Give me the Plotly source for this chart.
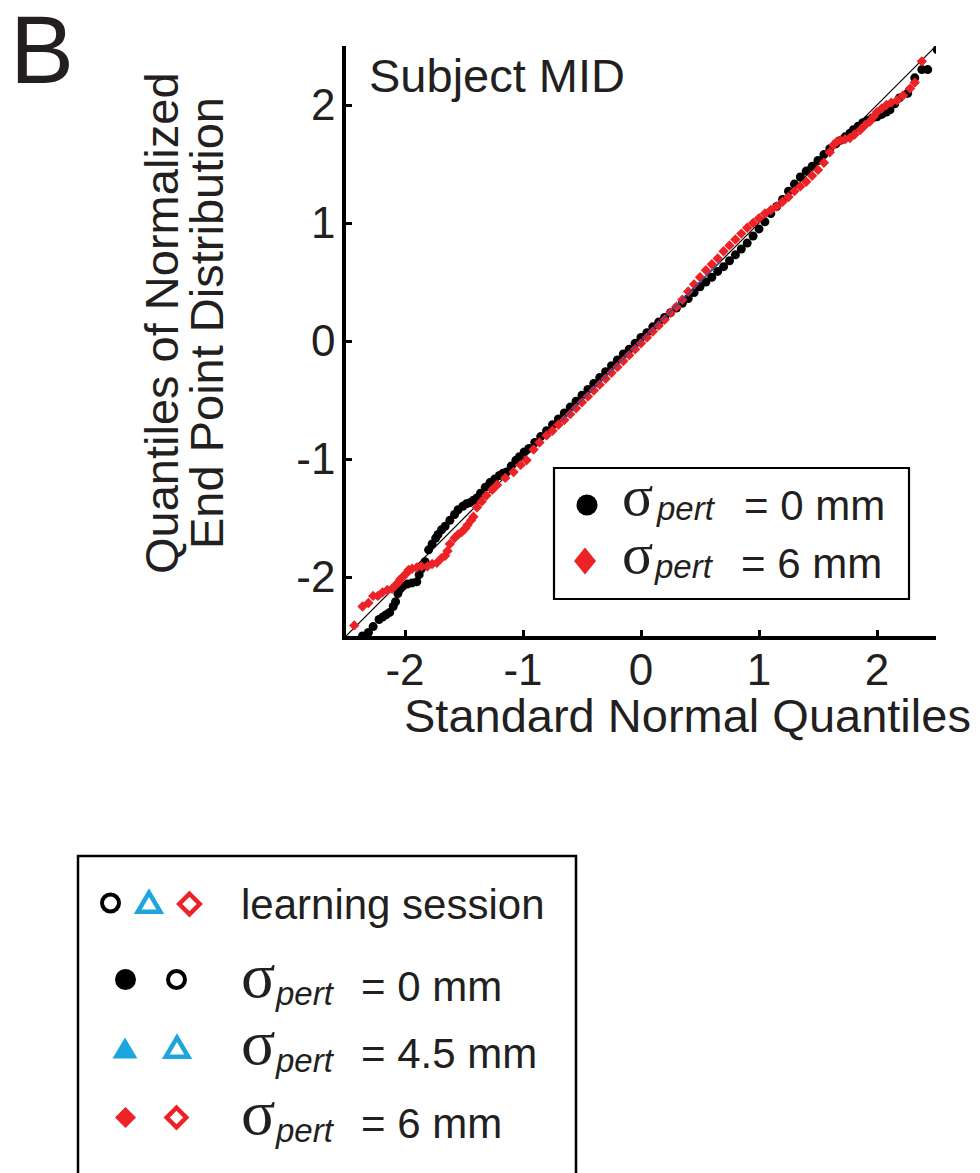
import plotly.graph_objects as go

# ---------------- data ----------------
# sigma_pert = 0 mm : theoretical (standard normal) quantiles and sample quantiles
black_x = [-2.36, -2.31, -2.27, -2.22, -2.19, -2.16, -2.13, -2.10, -2.08, -2.06,
           -2.04, -2.02, -1.98, -1.94, -1.90, -1.88, -1.86, -1.83, -1.80, -1.77,
           -1.74, -1.72, -1.69, -1.66, -1.62, -1.58, -1.55, -1.51, -1.48, -1.45,
           -1.42, -1.39, -1.36, -1.32, -1.28, -1.24, -1.20, -1.17, -1.14, -1.10,
           -1.06, -1.03, -0.99, -0.95, -0.90, -0.85, -0.80, -0.75, -0.70, -0.65,
           -0.60, -0.55, -0.50, -0.45, -0.40, -0.35, -0.30, -0.25, -0.20, -0.15,
           -0.10, -0.05, 0.00, 0.05, 0.10, 0.15, 0.20, 0.25, 0.30, 0.35,
           0.40, 0.45, 0.50, 0.55, 0.60, 0.65, 0.70, 0.75, 0.80, 0.85,
           0.90, 0.95, 1.00, 1.05, 1.10, 1.15, 1.20, 1.25, 1.30, 1.35,
           1.40, 1.45, 1.50, 1.55, 1.60, 1.65, 1.69, 1.73, 1.77, 1.80,
           1.84, 1.88, 1.92, 1.96, 2.00, 2.04, 2.08, 2.11, 2.15, 2.19,
           2.26, 2.32, 2.38, 2.43, 2.51]
black_y = [-2.50, -2.47, -2.42, -2.36, -2.34, -2.32, -2.30, -2.25, -2.21, -2.14,
           -2.10, -2.08, -2.06, -2.05, -2.04, -1.98, -1.93, -1.87, -1.77, -1.72,
           -1.67, -1.64, -1.60, -1.57, -1.52, -1.47, -1.43, -1.40, -1.38, -1.37,
           -1.35, -1.33, -1.29, -1.24, -1.20, -1.17, -1.14, -1.12, -1.11, -1.06,
           -1.01, -0.98, -0.94, -0.91, -0.86, -0.81, -0.76, -0.71, -0.66, -0.61,
           -0.56, -0.51, -0.46, -0.41, -0.36, -0.31, -0.26, -0.21, -0.16, -0.11,
           -0.07, -0.02, 0.03, 0.07, 0.12, 0.16, 0.20, 0.24, 0.28, 0.32,
           0.36, 0.41, 0.46, 0.50, 0.54, 0.59, 0.63, 0.68, 0.73, 0.78,
           0.83, 0.89, 0.95, 1.01, 1.08, 1.14, 1.20, 1.27, 1.33, 1.39,
           1.44, 1.48, 1.53, 1.58, 1.63, 1.67, 1.70, 1.73, 1.76, 1.79,
           1.82, 1.85, 1.87, 1.89, 1.90, 1.92, 1.94, 1.96, 2.01, 2.06,
           2.10, 2.23, 2.30, 2.30, 2.47]

# sigma_pert = 6 mm
red_x = [-2.43, -2.36, -2.31, -2.27, -2.23, -2.19, -2.15, -2.11, -2.08, -2.06,
         -2.04, -2.02, -1.99, -1.97, -1.94, -1.90, -1.86, -1.81, -1.77, -1.73,
         -1.69, -1.66, -1.64, -1.62, -1.58, -1.55, -1.52, -1.49, -1.47, -1.44,
         -1.42, -1.39, -1.35, -1.31, -1.26, -1.22, -1.15, -1.08, -1.02, -0.97,
         -0.91, -0.86, -0.80, -0.75, -0.70, -0.65, -0.60, -0.55, -0.50, -0.45,
         -0.40, -0.35, -0.30, -0.25, -0.20, -0.15, -0.10, -0.05, 0.00, 0.05,
         0.10, 0.15, 0.20, 0.25, 0.30, 0.35, 0.40, 0.45, 0.50, 0.55,
         0.60, 0.65, 0.70, 0.75, 0.80, 0.85, 0.90, 0.95, 1.00, 1.05,
         1.10, 1.15, 1.20, 1.25, 1.30, 1.35, 1.40, 1.45, 1.50, 1.55,
         1.60, 1.63, 1.66, 1.69, 1.73, 1.77, 1.81, 1.86, 1.90, 1.94,
         1.97, 2.00, 2.04, 2.08, 2.12, 2.17, 2.22, 2.28, 2.32, 2.38]
red_y = [-2.41, -2.25, -2.22, -2.16, -2.16, -2.13, -2.11, -2.10, -2.07, -2.05,
         -2.02, -2.00, -1.97, -1.94, -1.93, -1.92, -1.91, -1.91, -1.89, -1.88,
         -1.84, -1.82, -1.78, -1.72, -1.67, -1.64, -1.62, -1.59, -1.56, -1.52,
         -1.49, -1.41, -1.36, -1.31, -1.26, -1.22, -1.16, -1.11, -1.05, -1.01,
         -0.92, -0.86, -0.80, -0.76, -0.71, -0.67, -0.62, -0.57, -0.52, -0.47,
         -0.42, -0.37, -0.32, -0.27, -0.22, -0.17, -0.12, -0.07, -0.02, 0.03,
         0.08, 0.13, 0.18, 0.24, 0.29, 0.35, 0.42, 0.48, 0.54, 0.60,
         0.65, 0.70, 0.76, 0.81, 0.86, 0.91, 0.96, 1.00, 1.04, 1.08,
         1.11, 1.14, 1.18, 1.22, 1.27, 1.31, 1.35, 1.40, 1.45, 1.51,
         1.60, 1.66, 1.69, 1.70, 1.71, 1.72, 1.75, 1.79, 1.83, 1.86,
         1.90, 1.94, 1.97, 2.00, 2.02, 2.04, 2.08, 2.14, 2.19, 2.37]

ref_line = [-2.5, 2.5]          # y = x reference line
quartile_line = [-0.674, 0.674]  # line through 1st and 3rd quartiles

tick_vals = [-2, -1, 0, 1, 2]
tick_text = ["-2", "-1", "0", "1", "2"]

series_names = ["σpert = 0 mm", "σpert = 6 mm"]
legend_values = ["= 0 mm", "= 4.5 mm", "= 6 mm"]

# ---------------- styling ----------------
W, H = 980, 1173
OFF = 8  # page body margin of the html page
TXT = "#231f20"
RED = "#ec2227"
BLUE = "#1ea5de"
FONT = "Liberation Sans, Arial, sans-serif"
SERIF = "Liberation Serif, Times New Roman, serif"


def px(x):
    return (x - OFF) / W


def py(y):
    return 1 - (y - OFF) / H


fig = go.Figure()

fig.add_trace(go.Scatter(x=ref_line, y=ref_line, mode="lines",
                         line=dict(color="black", width=1.2),
                         showlegend=False, hoverinfo="skip"))
fig.add_trace(go.Scatter(x=black_x, y=black_y, mode="markers", name=series_names[0],
                         marker=dict(symbol="circle", size=9, color="black",
                                     line=dict(width=0)),
                         showlegend=False))
fig.add_trace(go.Scatter(x=red_x, y=red_y, mode="markers", name=series_names[1],
                         marker=dict(symbol="diamond", size=8, color=RED,
                                     line=dict(width=0)),
                         showlegend=False))
fig.add_trace(go.Scatter(x=quartile_line, y=quartile_line, mode="lines",
                         line=dict(color="#3a4aa0", width=1.3),
                         showlegend=False, hoverinfo="skip"))

axis_common = dict(range=[-2.5, 2.5], showgrid=False, zeroline=False,
                   showline=True, linecolor="black", linewidth=3.5,
                   ticks="inside", ticklen=6, tickwidth=3, tickcolor="black",
                   tickvals=tick_vals, ticktext=tick_text,
                   tickfont=dict(family=FONT, size=44, color=TXT))

fig.update_layout(
    width=W, height=H,
    margin=dict(l=0, r=0, t=0, b=0),
    paper_bgcolor="white", plot_bgcolor="white",
    xaxis=dict(domain=[px(346), px(936)], **axis_common),
    yaxis=dict(domain=[py(636), py(46)], **axis_common),
    showlegend=False,
)
fig.update_xaxes(ticklabelstandoff=-8)
fig.update_yaxes(ticklabelstandoff=-2)

ann = []


def text(x, y, s, size, family=FONT, xanchor="left", yanchor="middle", angle=0, color=TXT):
    ann.append(dict(x=px(x), y=py(y), xref="paper", yref="paper", text=s,
                    showarrow=False, xanchor=xanchor, yanchor=yanchor,
                    textangle=angle, borderpad=0,
                    font=dict(family=family, size=size, color=color)))


# panel letter & titles
text(9, 50, "B", 96)
text(368, 75, "Subject MID", 47)
text(972, 716, "Standard Normal Quantiles", 47, xanchor="right")
text(161, 323, "Quantiles of Normalized", 47, xanchor="center", angle=-90)
text(206, 323, "End Point Distribution", 47, xanchor="center", angle=-90)


def sigma_label(xs, yc, size_s, size_p, xv, value, dx_p=16, size_v=42):
    # sigma glyph centred at (xs, yc); subscript 'pert'; value text
    text(xs, yc - 0.11 * size_s, "σ", size_s, family=SERIF, xanchor="center")
    text(xs + dx_p, yc + 0.62 * size_s - 0.35 * size_p - 18, "<i>pert</i>", size_p)
    text(xv, yc + 3, value, size_v)


# inner legend
sigma_label(637, 502, 58, 33, 743, legend_values[0], dx_p=18)
sigma_label(637, 560, 58, 33, 740, legend_values[2], dx_p=16)

# bottom legend
text(240, 905, "learning session", 42)
sigma_label(258, 983, 64, 33, 360, legend_values[0])
sigma_label(258, 1050, 64, 33, 360, legend_values[1])
sigma_label(258, 1120, 64, 33, 360, legend_values[2])

shapes = []


def rect(x0, y0, x1, y1, lw):
    shapes.append(dict(type="rect", xref="paper", yref="paper",
                       x0=px(x0), x1=px(x1), y0=py(y1), y1=py(y0),
                       line=dict(color="black", width=lw), fillcolor="rgba(0,0,0,0)"))


def circle(cx, cy, d, color, filled, lw=4):
    r = d / 2 if filled else (d - lw) / 2
    shapes.append(dict(type="circle", xref="paper", yref="paper",
                       x0=px(cx - r), x1=px(cx + r), y0=py(cy + r), y1=py(cy - r),
                       line=dict(color=color, width=0 if filled else lw),
                       fillcolor=color if filled else "rgba(0,0,0,0)"))


def poly(pts, color, filled, lw):
    path = "M" + " L".join(f"{px(x):.5f},{py(y):.5f}" for x, y in pts) + " Z"
    shapes.append(dict(type="path", xref="paper", yref="paper", path=path,
                       line=dict(color=color, width=0 if filled else lw),
                       fillcolor=color if filled else "rgba(0,0,0,0)"))


def triangle(cx, cy, w, h, color, filled, lw=4.5):
    top, bot = cy - h / 2, cy + h / 2
    if not filled:
        w, h = w - 1.2 * lw, h - 1.1 * lw
        bot = cy + 12 - lw / 2
        top = bot - h
    poly([(cx - w / 2, bot), (cx + w / 2, bot), (cx, top)], color, filled, lw)


def diamond(cx, cy, w, h, color, filled, lw=4.5):
    if not filled:
        w, h = w - 1.0 * lw, h - 1.0 * lw
    poly([(cx, cy - h / 2), (cx + w / 2, cy), (cx, cy + h / 2), (cx - w / 2, cy)], color, filled, lw)


# inner legend box and symbols
rect(554, 468, 909, 599, 2.2)
circle(587, 505, 21, "black", True)
diamond(585, 561, 22, 27, RED, True)

# bottom legend box and symbols
rect(78, 856, 576, 1200, 2.5)
circle(110.5, 903, 21, "black", False)
triangle(149, 902, 28, 24, BLUE, False)
diamond(189.5, 904, 25, 25, RED, False)

circle(125.5, 979.5, 21, "black", True)
circle(176.5, 979.5, 21, "black", False)
triangle(125, 1048, 25, 21, BLUE, True)
triangle(177, 1047, 28, 24, BLUE, False)
diamond(125.5, 1117.5, 21, 21, RED, True)
diamond(176.5, 1117.5, 24, 24, RED, False)

fig.update_layout(annotations=ann, shapes=shapes)

fig.write_html("out.html")
